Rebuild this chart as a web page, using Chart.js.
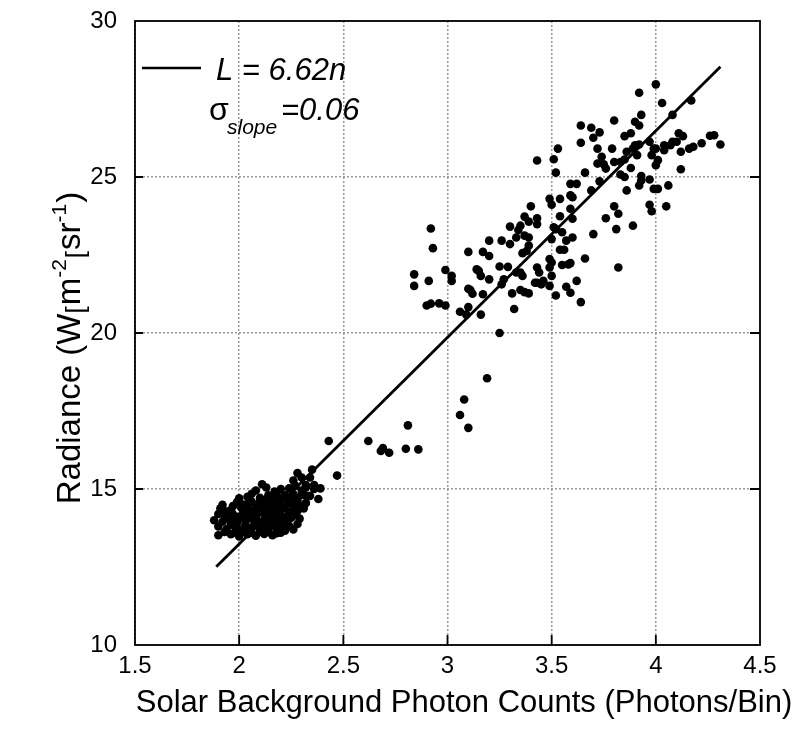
<!DOCTYPE html>
<html>
<head>
<meta charset="utf-8">
<script src="https://cdn.jsdelivr.net/npm/chart.js@4.4.0/dist/chart.umd.min.js"></script>
<style>
  html, body { margin: 0; padding: 0; background: #fff; }
</style>
</head>
<body>
<canvas id="chart" width="798" height="745"></canvas>
<script>
// dense low-radiance cluster (photon counts, radiance)
const lowCluster = [
  [1.90,13.52],[1.96,13.55],[2.00,13.48],[2.04,13.55],[2.08,13.50],[2.12,13.56],[2.16,13.52],[2.20,13.60],
  [1.93,13.62],[2.02,13.62],[2.10,13.65],[2.14,13.62],[1.98,13.60],[2.06,13.60],[2.18,13.58],[2.22,13.66],
  [1.90,13.80],[1.94,13.72],[1.98,13.78],[2.01,13.70],[2.05,13.75],[2.07,13.82],[2.11,13.74],[2.15,13.80],
  [2.18,13.72],[2.21,13.78],[2.24,13.82],[2.26,13.70],
  [1.96,13.88],[2.03,13.86],[2.09,13.84],[2.13,13.88],[2.17,13.86],[2.20,13.90],[2.28,13.88],
  [1.88,14.00],[1.92,13.95],[1.95,14.05],[1.99,13.92],[2.03,13.98],[2.06,14.05],[2.09,13.92],[2.12,14.02],
  [2.16,13.95],[2.19,14.05],[2.23,13.98],[2.25,14.08],
  [1.98,14.10],[2.02,14.06],[2.08,14.08],[2.15,14.08],[2.22,14.10],[2.29,14.05],[1.90,14.20],
  [1.93,14.15],[1.97,14.20],[2.00,14.12],[2.04,14.22],[2.07,14.15],[2.10,14.25],[2.13,14.12],[2.17,14.22],
  [2.20,14.15],[2.24,14.25],[2.27,14.18],
  [1.94,14.28],[2.02,14.28],[2.07,14.32],[2.14,14.28],[2.20,14.32],[2.28,14.30],[2.31,14.38],
  [1.91,14.38],[1.96,14.32],[2.01,14.40],[2.05,14.30],[2.08,14.42],[2.11,14.35],[2.15,14.40],[2.18,14.30],
  [2.22,14.42],[2.26,14.35],[2.29,14.45],[1.92,14.49],
  [1.97,14.45],[2.04,14.46],[2.12,14.46],[2.19,14.48],[2.26,14.48],
  [1.99,14.58],[2.02,14.50],[2.06,14.60],[2.09,14.52],[2.13,14.58],[2.16,14.50],[2.20,14.62],[2.24,14.55],
  [2.28,14.62],[2.32,14.55],
  [2.05,14.65],[2.12,14.64],[2.16,14.66],[2.21,14.70],[2.28,14.72],
  [2.00,14.70],[2.04,14.75],[2.10,14.72],[2.14,14.80],[2.18,14.72],[2.22,14.80],[2.25,14.72],[2.30,14.82],
  [2.34,14.78],[2.06,14.85],[2.18,14.85],[2.30,14.95],
  [2.08,14.95],[2.13,15.05],[2.11,15.15],[2.17,14.92],[2.20,15.00],[2.24,15.02],[2.27,15.10],[2.32,15.05],
  [2.36,15.00],[2.39,15.02],
  [2.26,15.27],[2.28,15.51],[2.30,15.37],[2.35,15.62],[2.34,15.37],[2.32,15.13],[2.36,15.13],[2.32,14.79],
  [2.32,14.55],[2.38,14.68],[2.26,14.84],[2.24,14.68]
];

// sparse points between the two clusters
const midPoints = [
  [3.19,18.55],[3.08,17.87],[3.06,17.37],[3.10,16.96],[2.81,17.04],[2.80,16.29],[2.86,16.27],
  [2.43,16.54],[2.47,15.43],[2.62,16.54],[2.68,16.22],[2.69,16.31],[2.72,16.16]
];

// high-radiance cluster
const highCluster = [
  [4.03,27.37],[4.17,27.45],[3.93,26.99],[4.08,26.99],[3.90,26.77],[3.92,26.65],[3.80,26.81],[3.64,26.65],
  [3.69,26.58],[3.70,26.26],[3.73,26.43],[3.88,26.40],[3.85,26.31],[3.64,26.10],[3.72,25.91],[3.79,25.91],
  [3.53,25.91],[3.43,25.53],[3.51,25.57],[3.52,25.14],[3.66,25.14],[3.74,25.65],[3.75,25.41],[3.72,25.43],
  [3.76,25.27],[3.80,25.48],[3.83,25.48],[3.85,25.56],[3.86,25.81],[3.89,25.91],[3.92,26.04],[3.90,26.02],
  [3.91,25.70],[3.97,26.13],[3.99,25.91],[4.00,25.91],[3.98,25.70],[4.04,26.02],[4.04,25.86],[4.07,26.02],
  [4.08,26.13],[4.10,26.13],[4.11,26.40],[4.13,26.31],[4.12,25.81],[4.16,25.91],[4.18,25.97],[4.22,26.08],
  [4.26,26.32],[4.28,26.34],[4.31,26.04],[4.01,25.54],[4.00,25.38],[4.12,25.25],[3.88,25.29],[3.83,25.08],
  [3.85,25.00],[3.93,25.03],[3.93,24.89],[3.97,24.92],[3.92,24.73],[3.99,24.62],[4.01,24.62],[4.06,24.73],
  [3.86,24.57],[3.97,24.11],[3.98,23.90],[4.05,24.06],[3.80,24.06],[3.82,23.82],[3.76,23.68],[3.81,23.33],
  [3.89,23.44],[3.70,23.17],[3.66,22.39],[3.82,22.10],[3.73,24.86],[3.69,24.57],[3.62,24.78],[3.59,24.78],
  [3.59,24.41],[3.60,24.35],[3.59,23.98],[3.60,23.66],[3.54,24.30],[3.49,24.30],[3.50,24.11],[3.54,23.74],
  [3.51,23.39],[3.52,23.33],[3.55,23.23],[3.57,22.96],[3.60,23.06],[3.50,23.01],[3.54,22.67],[3.56,22.67],
  [3.49,22.37],[3.50,22.26],[3.49,22.10],[3.55,22.18],[3.58,22.20],[3.59,22.24],[3.50,21.83],[3.49,21.51],
  [3.52,21.20],[3.57,21.48],[3.59,21.29],[3.62,21.67],[3.64,20.99],[3.44,21.94],[3.43,22.10],[3.43,21.61],
  [3.45,21.56],[3.42,21.61],[3.46,21.67],[3.40,24.06],[3.37,23.73],[3.39,23.57],[3.43,23.68],[3.43,23.49],
  [3.30,23.41],[3.34,23.30],[3.35,23.44],[3.33,23.06],[3.37,23.12],[3.39,23.06],[3.39,22.80],[3.38,22.63],
  [3.36,22.56],[3.26,22.96],[3.20,22.96],[3.30,22.85],[3.17,22.60],[3.20,22.47],[3.10,22.60],[3.25,22.13],
  [3.29,22.12],[3.14,22.04],[3.15,21.99],[3.16,21.83],[3.20,21.72],[3.27,21.72],[3.26,21.56],[3.33,21.94],
  [3.35,21.94],[3.36,21.83],[3.31,21.27],[3.35,21.38],[3.37,21.31],[3.39,21.27],[3.32,20.77],[3.10,21.42],
  [3.11,21.38],[3.12,21.26],[3.17,21.24],[3.10,20.83],[3.06,20.68],[3.09,20.59],[3.16,20.59],[3.25,20.00],
  [2.92,23.35],[2.93,22.72],[2.84,21.88],[2.84,21.51],[2.91,21.67],[2.99,22.02],[3.02,21.83],[3.02,21.67],
  [2.90,20.88],[2.92,20.94],[2.96,20.95],[2.99,20.88],[4.00,27.97],[3.92,27.70]
];

const fitSlope = 6.62;
const fitRange = [1.89, 4.31];
const xTicks = [1.5, 2, 2.5, 3, 3.5, 4, 4.5];
const yTicks = [10, 15, 20, 25, 30];

const FONT = '"Liberation Sans", Arial, sans-serif';

const allPoints = lowCluster.concat(midPoints, highCluster).map(p => ({ x: p[0], y: p[1] }));
const fitLine = fitRange.map(x => ({ x: x, y: fitSlope * x }));

// frame and inward ticks
const framePlugin = {
  id: 'frame',
  beforeDatasetsDraw(chart) {
    const { ctx, chartArea: a, scales } = chart;
    ctx.save();
    ctx.strokeStyle = '#000';
    ctx.lineWidth = 1.8;
    ctx.strokeRect(a.left, a.top, a.right - a.left, a.bottom - a.top);
    ctx.beginPath();
    xTicks.slice(1, -1).forEach(v => {
      const px = scales.x.getPixelForValue(v);
      ctx.moveTo(px, a.bottom); ctx.lineTo(px, a.bottom - 10);
    });
    yTicks.slice(1, -1).forEach(v => {
      const py = scales.y.getPixelForValue(v);
      ctx.moveTo(a.left, py); ctx.lineTo(a.left + 8, py);
      ctx.moveTo(a.right, py); ctx.lineTo(a.right - 10, py);
    });
    ctx.stroke();
    ctx.restore();
  }
};

function drawRich(ctx, parts, size) {
  const fontFor = p => (p.sup ? Math.round(size * 0.65) : (p.small ? Math.round(size * 0.8) : size)) + 'px ' + FONT;
  let w = 0;
  parts.forEach(p => {
    ctx.font = fontFor(p);
    p.w = ctx.measureText(p.t).width + (p.gap || 0);
    w += p.w;
  });
  let x = -w / 2;
  parts.forEach(p => {
    ctx.font = fontFor(p);
    const dy = p.sup ? -size * 0.42 : (p.small ? size * 0.12 : 0);
    ctx.fillText(p.t, x, dy);
    x += p.w;
  });
}

const textPlugin = {
  id: 'texts',
  afterDraw(chart) {
    const ctx = chart.ctx;
    ctx.save();
    ctx.fillStyle = '#000';
    ctx.textBaseline = 'alphabetic';
    ctx.textAlign = 'center';
    ctx.font = '31px ' + FONT;
    ctx.fillText('Solar Background Photon Counts (Photons/Bin)', 464, 712);

    ctx.save();
    ctx.textAlign = 'left';
    ctx.translate(80, 348);
    ctx.rotate(-Math.PI / 2);
    drawRich(ctx, [
      { t: 'Radiance (W' }, { t: '[', small: true, gap: 1 }, { t: 'm' }, { t: '-2', sup: true, gap: 1 },
      { t: '[', small: true, gap: 1 }, { t: 'sr' }, { t: '-1', sup: true, gap: 1 }, { t: ')' }
    ], 33);
    ctx.restore();

    // legend
    ctx.textAlign = 'left';
    ctx.strokeStyle = '#000';
    ctx.lineWidth = 2.6;
    ctx.beginPath();
    ctx.moveTo(142, 68); ctx.lineTo(201, 68);
    ctx.stroke();
    ctx.font = 'italic 31px ' + FONT;
    ctx.fillText('L = 6.62n', 216, 80);
    ctx.font = '32px ' + FONT;
    ctx.fillText('σ', 209, 120);
    ctx.font = 'italic 21px ' + FONT;
    ctx.fillText('slope', 227, 134);
    ctx.font = 'italic 31px ' + FONT;
    ctx.fillText('=0.06', 281, 120);
    ctx.restore();
  }
};

new Chart(document.getElementById('chart').getContext('2d'), {
  type: 'scatter',
  data: {
    datasets: [
      {
        data: allPoints,
        backgroundColor: '#000',
        borderWidth: 0,
        pointRadius: 4.3,
        pointHoverRadius: 4.3
      },
      {
        type: 'line',
        data: fitLine,
        borderColor: '#000',
        borderWidth: 2.8,
        pointRadius: 0,
        fill: false
      }
    ]
  },
  options: {
    responsive: false,
    animation: false,
    devicePixelRatio: 1,
    layout: { padding: { top: 21, right: 38, left: 0, bottom: 0 } },
    plugins: { legend: { display: false }, title: { display: false }, tooltip: { enabled: false } },
    scales: {
      x: {
        type: 'linear', min: 1.5, max: 4.5,
        afterBuildTicks: s => { s.ticks = xTicks.map(v => ({ value: v })); },
        afterFit: s => { s.height = 100; s.paddingLeft = 0; s.paddingRight = 0; },
        grid: { color: '#9a9a9a', lineWidth: 1.5, drawTicks: false },
        border: { display: false, dash: [2, 2] },
        ticks: { color: '#000', padding: 7, font: { family: FONT, size: 24 }, callback: v => String(v), maxRotation: 0 }
      },
      y: {
        type: 'linear', min: 10, max: 30,
        afterBuildTicks: s => { s.ticks = yTicks.map(v => ({ value: v })); },
        afterFit: s => { s.width = 135; s.paddingTop = 0; s.paddingBottom = 0; },
        grid: { color: '#9a9a9a', lineWidth: 1.5, drawTicks: false },
        border: { display: false, dash: [2, 2] },
        ticks: { color: '#000', padding: 18, font: { family: FONT, size: 24 }, callback: v => String(v) }
      }
    }
  },
  plugins: [framePlugin, textPlugin]
});
</script>
</body>
</html>
